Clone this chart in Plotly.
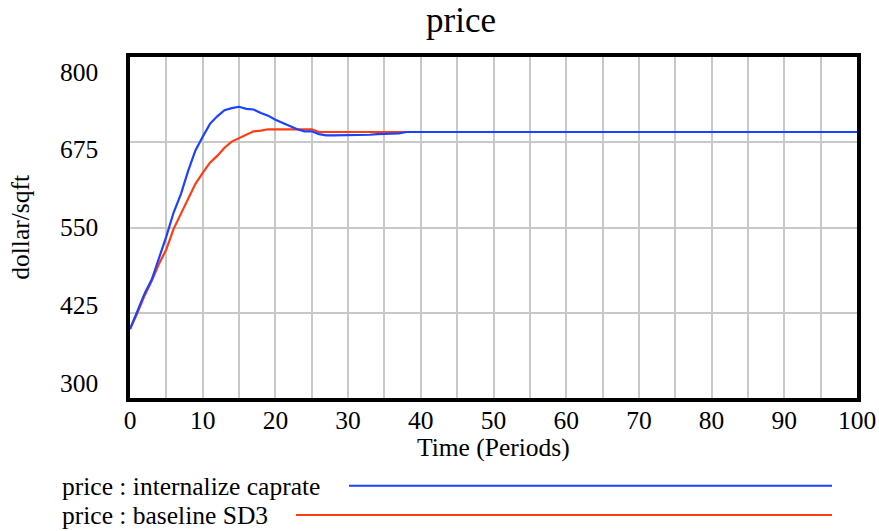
import plotly.graph_objects as go

# ---- data ----
time_pts = [0, 1, 2, 3, 4, 5, 6, 7, 8, 9, 10, 11, 12, 13, 14, 15, 16, 17, 18, 19, 20,
            21, 22, 23, 24, 25, 26, 27, 28, 29, 30, 31, 32, 33, 34, 35, 36, 37, 38, 39, 40, 100]
price_internalize = [401, 428, 453, 474, 504, 537, 572, 599, 633, 663, 683, 702, 713, 722, 725,
                     727, 724, 723, 718, 714, 708, 703, 699, 694, 691, 691, 687, 685, 685, 685,
                     685, 685, 685, 686, 687, 687, 687, 688, 690, 690, 690, 690]
price_baseline = [401, 424, 450, 472, 497, 518, 548, 570, 594, 614, 630, 645, 655, 667, 676,
                  681, 685, 691, 692, 694, 694, 694, 694, 694, 694, 694, 690, 690, 690, 690,
                  690, 690, 690, 690, 690, 690, 690, 690, 690, 690, 690, 690]

series_names = ["price : internalize caprate", "price : baseline SD3"]
x_tick_vals = [0, 10, 20, 30, 40, 50, 60, 70, 80, 90, 100]
y_tick_labels = ["800", "675", "550", "425", "300"]
y_grid_vals = [300, 425, 550, 675, 800]

FONT = "Liberation Serif, Times New Roman, serif"
FS = 25.5
BLUE = "#1a42ff"
RED = "#ff3c14"

fig = go.Figure()
fig.add_trace(go.Scatter(x=time_pts, y=price_baseline, mode="lines",
                         line=dict(color=RED, width=2.2), name=series_names[1]))
fig.add_trace(go.Scatter(x=time_pts, y=price_internalize, mode="lines",
                         line=dict(color=BLUE, width=2.2), name=series_names[0]))

ymin, ymax = 300, 800
fig.update_layout(
    width=879, height=531,
    margin=dict(l=130, r=22, t=57, b=133, autoexpand=False),
    paper_bgcolor="white", plot_bgcolor="white",
    showlegend=False,
    font=dict(family=FONT, size=FS, color="black"),
    xaxis=dict(range=[0, 100], tickvals=x_tick_vals, showgrid=True, automargin=False,
               gridcolor="#c8c8c8", gridwidth=2,
               minor=dict(dtick=5, showgrid=True, gridcolor="#c8c8c8", gridwidth=2),
               showline=True, linecolor="black", linewidth=4, mirror=True,
               ticks="", zeroline=False, ticklabelstandoff=-4,
               tickfont=dict(family=FONT, size=FS)),
    yaxis=dict(range=[ymin, ymax], tickvals=y_grid_vals, showticklabels=False,
               automargin=False,
               showgrid=True, gridcolor="#c8c8c8", gridwidth=2,
               showline=True, linecolor="black", linewidth=4, mirror=True,
               ticks="", zeroline=False),
)

# x axis title
fig.add_annotation(text="Time (Periods)", xref="paper", yref="paper", x=0.5, y=-49 / 341,
                   xanchor="center", yanchor="middle", showarrow=False,
                   font=dict(family=FONT, size=FS))

# y tick labels (Vensim-style spacing, slightly inset from the frame)
inset = (ymax - ymin) * 0.044
n = len(y_tick_labels)
for i, lab in enumerate(y_tick_labels):
    pos = ymax - inset - i * (ymax - ymin - 2 * inset) / (n - 1)
    fig.add_annotation(text=lab, xref="paper", yref="y", x=-0.041, y=pos,
                       xanchor="right", yanchor="middle", showarrow=False,
                       font=dict(family=FONT, size=FS))

# title
fig.add_annotation(text="price", xref="paper", yref="paper", x=0.455, y=1.0 + 37 / 341,
                   xanchor="center", yanchor="middle", showarrow=False,
                   font=dict(family=FONT, size=35))

# y axis title
fig.add_annotation(text="dollar/sqft", xref="paper", yref="paper", x=-0.151, y=0.5,
                   xanchor="center", yanchor="middle", showarrow=False, textangle=-90,
                   font=dict(family=FONT, size=FS))

# legend (text + line samples)
legend_rows = [(series_names[0], BLUE, -0.260, 349), (series_names[1], RED, -0.346, 296)]
for name, col, yp, x_start in legend_rows:
    fig.add_annotation(text=name, xref="paper", yref="paper", x=(60 - 130) / 727, y=yp,
                       xanchor="left", yanchor="middle", showarrow=False,
                       font=dict(family=FONT, size=FS))
    fig.add_shape(type="line", xref="paper", yref="paper",
                  x0=(x_start - 130) / 727, x1=(832 - 130) / 727, y0=yp + 0.003, y1=yp + 0.003,
                  line=dict(color=col, width=2))

fig.write_html("out.html", config={"displayModeBar": False},
               post_script="document.body.style.margin='0';document.body.style.overflow='hidden';")
